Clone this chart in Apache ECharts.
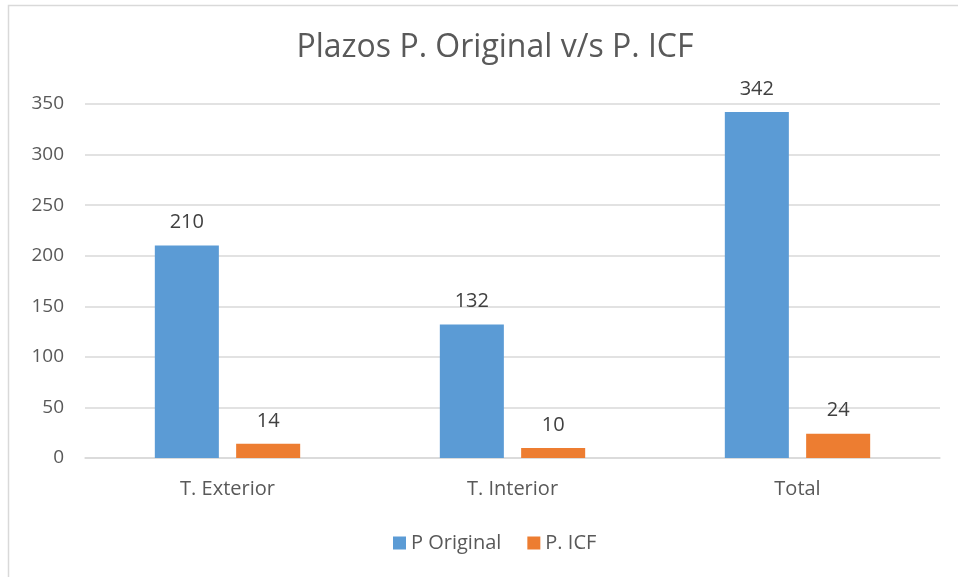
<!DOCTYPE html>
<html>
<head>
<meta charset="utf-8">
<script src="https://cdn.jsdelivr.net/npm/echarts@6/dist/echarts.min.js"></script>
<style>
html, body { margin: 0; padding: 0; background: #fff; }
#main { width: 958px; height: 577px; }
</style>
</head>
<body>
<div id="main"></div>
<script>
// datos
var categorias = ['T. Exterior', 'T. Interior', 'Total'];
var pOriginal = [210, 132, 342];
var pICF = [14, 10, 24];
var ticksY = [0, 50, 100, 150, 200, 250, 300, 350];

var fuente = 'Open Sans';
var myecharts = echarts.init(document.getElementById('main'));
var option = {
    animation: false,
    backgroundColor: '#ffffff',
    graphic: [{
        type: 'rect',
        shape: { x: 8.5, y: 5.5, width: 1000, height: 1000 },
        style: { fill: 'none', stroke: '#d9d9d9', lineWidth: 1.5 }
    }],
    title: {
        text: 'Plazos P. Original v/s P. ICF',
        left: 490,
        textAlign: 'center',
        top: 27,
        textStyle: { fontFamily: fuente, fontSize: 32, fontWeight: 'normal', color: '#595959' }
    },
    legend: {
        data: ['P Original', 'P. ICF'],
        left: 388,
        top: 528,
        itemWidth: 13,
        itemHeight: 13,
        itemGap: 26,
        icon: 'rect',
        textStyle: { fontFamily: fuente, fontSize: 20, color: '#595959' }
    },
    grid: { left: 85, right: 18, top: 104, bottom: 119 },
    xAxis: {
        type: 'category',
        data: categorias,
        axisTick: { show: false },
        axisLine: { lineStyle: { color: '#d9d9d9', width: 1.5 } },
        axisLabel: { fontFamily: fuente, fontSize: 20, color: '#595959', margin: 21 }
    },
    yAxis: {
        type: 'value',
        min: ticksY[0],
        max: ticksY[ticksY.length - 1],
        interval: 50,
        axisLine: { show: false },
        axisTick: { show: false },
        splitLine: { lineStyle: { color: '#d9d9d9', width: 1.5 } },
        axisLabel: { fontFamily: fuente, fontSize: 19, color: '#595959', margin: 21 }
    },
    series: [
        {
            name: 'P Original',
            type: 'bar',
            data: pOriginal,
            barGap: '27%',
            barCategoryGap: '49%',
            itemStyle: { color: '#5b9bd5' },
            label: { show: true, position: 'top', distance: 13, fontFamily: fuente, fontSize: 20, color: '#404040' }
        },
        {
            name: 'P. ICF',
            type: 'bar',
            data: pICF,
            itemStyle: { color: '#ed7d31' },
            label: { show: true, position: 'top', distance: 13, fontFamily: fuente, fontSize: 20, color: '#404040' }
        }
    ]
};
myecharts.setOption(option);
</script>
</body>
</html>
